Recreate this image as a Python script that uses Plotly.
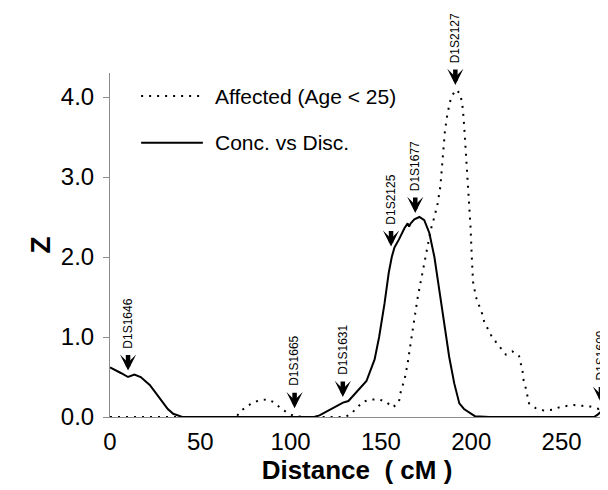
import plotly.graph_objects as go

# ---- data ----
conc_cm = [0, 3, 6, 10, 13.5, 17, 22, 25, 28.5, 32, 35, 38, 40, 60, 80, 100, 110, 113, 116, 120,
           126, 129, 132, 137, 142, 146.5, 149, 152, 154.3, 156, 157.5, 160, 163, 164.8, 165.6,
           166.5, 168.5, 171.3, 174, 176.8, 179.6, 182.3, 185, 187.8, 190.6, 193.4, 196, 199,
           202, 210, 240, 268, 270, 272.5]
conc_z = [0.62, 0.59, 0.55, 0.50, 0.53, 0.50, 0.40, 0.31, 0.21, 0.10, 0.04, 0.01, 0.0, 0.0, 0.0,
          0.0, 0.0, 0.0, 0.02, 0.07, 0.15, 0.18, 0.20, 0.32, 0.45, 0.72, 1.0, 1.42, 1.80, 2.0,
          2.12, 2.22, 2.36, 2.42, 2.38, 2.42, 2.47, 2.50, 2.46, 2.30, 2.0, 1.59, 1.17, 0.75, 0.42,
          0.17, 0.10, 0.05, 0.01, 0.0, 0.0, 0.0, 0.03, 0.08]

aff_cm = [0, 20, 40, 60, 70, 72, 75, 79, 83, 87.5, 91, 95, 98.5, 102, 110, 120, 130, 133, 136,
          140, 144.5, 149, 152.8, 156.5, 159.9, 161.1, 163, 164.8, 166.7, 168.5, 170.4, 172.2,
          174, 175.9, 177.7, 179.6, 181.4, 182.9, 184.2, 185.5, 186.9, 188.7, 191.2, 193.7,
          194.8, 195.4, 196.1, 196.7, 197.6, 198.3, 198.9, 199.6, 200.3, 201, 202.6, 204.4,
          205.9, 207.2, 209, 210.9, 213.6, 216.4, 219.2, 222.8, 226.5, 228.4, 229, 230.2, 231.1,
          232, 235.7, 240.3, 244.9, 248.6, 253.2, 256.9, 261.5, 266, 270.7, 273]
aff_z = [0, 0, 0, 0, 0, 0.07, 0.12, 0.18, 0.21, 0.22, 0.18, 0.10, 0.05, 0.01, 0, 0, 0, 0.03,
         0.10, 0.19, 0.22, 0.22, 0.19, 0.12, 0.18, 0.33, 0.46, 0.67, 0.96, 1.25, 1.5, 1.71, 1.92,
         2.12, 2.35, 2.5, 2.67, 2.88, 3.27, 3.59, 3.80, 3.98, 4.09, 4.05, 3.94, 3.84, 3.63, 3.42,
         3.0, 2.80, 2.59, 2.38, 2.0, 1.69, 1.5, 1.40, 1.30, 1.19, 1.1, 1.025, 0.94, 0.86, 0.78,
         0.82, 0.76, 0.57, 0.46, 0.36, 0.25, 0.17, 0.11, 0.08, 0.09, 0.12, 0.14, 0.15, 0.14,
         0.13, 0.10, 0.13]

marker_names = ["D1S1646", "D1S1665", "D1S1631", "D1S2125", "D1S1677", "D1S2127", "D1S1609"]
marker_cm = [10, 102.2, 128.9, 155.6, 169, 191.2, 271.8]
marker_z = [0.58, 0.11, 0.25, 2.13, 2.55, 4.15, 0.18]

x_ticks = [0, 50, 100, 150, 200, 250]
y_ticks = [0, 1, 2, 3, 4]
y_ticklabels = ["0.0", "1.0", "2.0", "3.0", "4.0"]

FONT = "Liberation Sans, Arial, Helvetica, sans-serif"

fig = go.Figure()
fig.add_trace(go.Scatter(x=aff_cm, y=aff_z, mode="lines", name="Affected (Age < 25)",
                         line=dict(color="black", width=2, dash="2px,6px"), showlegend=False))
fig.add_trace(go.Scatter(x=conc_cm, y=conc_z, mode="lines", name="Conc. vs Disc.",
                         line=dict(color="black", width=2), showlegend=False))

annotations = []
for name, cx, cz in zip(marker_names, marker_cm, marker_z):
    annotations.append(dict(x=cx, y=cz, xref="x", yref="y", text="", showarrow=True,
                            ax=0, ay=-17, arrowhead=3, arrowsize=0.6, arrowwidth=4.5,
                            arrowcolor="black", standoff=0))
    annotations.append(dict(x=cx, y=cz, xref="x", yref="y", text=name, showarrow=False,
                            textangle=-90, yshift=47, xanchor="center", yanchor="middle",
                            font=dict(family=FONT, size=12, color="black")))

# legend (drawn manually to match sample lengths)
leg_items = [("Affected (Age < 25)", "2px,6px", 0.933), ("Conc. vs Disc.", "solid", 0.797)]
shapes = []
for label, dash, ly in leg_items:
    shapes.append(dict(type="line", xref="paper", yref="paper", x0=0.063, x1=0.188, y0=ly, y1=ly,
                       line=dict(color="black", width=2, dash=dash)))
    annotations.append(dict(x=0.2085, y=ly, xref="paper", yref="paper", text=label,
                            showarrow=False, xanchor="left", yanchor="middle",
                            font=dict(family=FONT, size=21, color="black")))

# page body has an 8px margin, so the figure is sized/offset to compensate
fig.update_layout(
    width=600, height=482,
    margin=dict(l=102, r=4, t=65, b=73),
    paper_bgcolor="white", plot_bgcolor="white",
    font=dict(family=FONT, color="black"),
    annotations=annotations, shapes=shapes,
    xaxis=dict(range=[0, 273.5], tickvals=x_ticks, ticks="", showgrid=False, zeroline=False,
               showline=True, linecolor="#8c8c8c", linewidth=1, layer="below traces",
               tickfont=dict(size=24), ticklabelstandoff=3,
               title=dict(text="<b>Distance  ( cM )</b>", font=dict(size=26), standoff=5)),
    yaxis=dict(range=[0, 4.3], tickvals=y_ticks, ticktext=y_ticklabels, ticks="outside",
               ticklen=6, tickcolor="#8c8c8c", showgrid=False, zeroline=False,
               showline=True, linecolor="#8c8c8c", linewidth=1, layer="below traces",
               tickfont=dict(size=24), ticklabelstandoff=4,
               title=dict(text="<b>Z</b>", font=dict(size=28), standoff=2)),
)

fig.write_html("out.html")
